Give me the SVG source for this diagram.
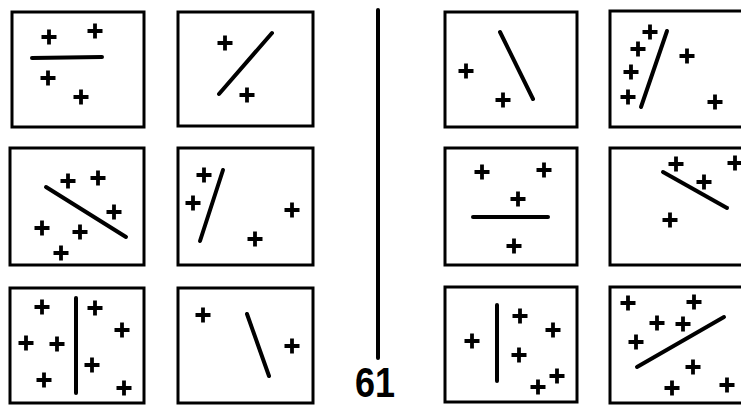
<svg xmlns="http://www.w3.org/2000/svg" xmlns:xlink="http://www.w3.org/1999/xlink" width="741" height="405" viewBox="0 0 741 405">
<style>
.bx{fill:none;stroke:#000;stroke-width:3}
.ln{stroke:#000;stroke-width:4;stroke-linecap:round;fill:none}
.cr{stroke:#000;stroke-width:3.8;fill:none}
.num{font-family:"Liberation Sans",Arial,sans-serif;font-weight:bold;font-size:42px;fill:#000}
</style>
<defs>
<path id="c" class="cr" d="M-7.5 0H7.5M0-7.5V7.5"/>
</defs>
<rect width="741" height="405" fill="#fff"/>

<g id="p1">
<rect class="bx" x="12" y="12" width="132" height="115"/>
<line class="ln" x1="32" y1="58" x2="102" y2="57"/>
<use xlink:href="#c" x="49" y="37"/><use xlink:href="#c" x="95" y="31"/>
<use xlink:href="#c" x="48" y="78"/><use xlink:href="#c" x="81" y="97"/>
</g>
<g id="p2">
<rect class="bx" x="178" y="12" width="135" height="114"/>
<line class="ln" x1="272" y1="33" x2="219" y2="94"/>
<use xlink:href="#c" x="225" y="43"/><use xlink:href="#c" x="247" y="95"/>
</g>
<g id="p3">
<rect class="bx" x="10" y="148" width="134" height="117"/>
<line class="ln" x1="46" y1="187" x2="126" y2="237"/>
<use xlink:href="#c" x="68" y="181"/><use xlink:href="#c" x="98" y="178"/>
<use xlink:href="#c" x="114" y="212"/><use xlink:href="#c" x="42" y="228"/>
<use xlink:href="#c" x="80" y="232"/><use xlink:href="#c" x="61" y="253"/>
</g>
<g id="p4">
<rect class="bx" x="178" y="148" width="135" height="117"/>
<line class="ln" x1="223" y1="170" x2="200" y2="241"/>
<use xlink:href="#c" x="204" y="175"/><use xlink:href="#c" x="193" y="203"/>
<use xlink:href="#c" x="292" y="210"/><use xlink:href="#c" x="255" y="239"/>
</g>
<g id="p5">
<rect class="bx" x="10" y="288" width="134" height="115"/>
<line class="ln" x1="76" y1="298" x2="76" y2="393"/>
<use xlink:href="#c" x="42" y="307"/><use xlink:href="#c" x="95" y="308"/>
<use xlink:href="#c" x="26" y="343"/><use xlink:href="#c" x="57" y="344"/>
<use xlink:href="#c" x="122" y="330"/><use xlink:href="#c" x="92" y="365"/>
<use xlink:href="#c" x="44" y="380"/><use xlink:href="#c" x="124" y="388"/>
</g>
<g id="p6">
<rect class="bx" x="178" y="288" width="135" height="115"/>
<line class="ln" x1="247" y1="314" x2="269" y2="376"/>
<use xlink:href="#c" x="203" y="315"/><use xlink:href="#c" x="292" y="346"/>
</g>

<g id="divider">
<line class="ln" x1="378" y1="10" x2="378" y2="358"/>
<text class="num" x="355" y="397" textLength="40" lengthAdjust="spacingAndGlyphs">61</text>
</g>

<g id="p7">
<rect class="bx" x="445" y="12" width="132" height="115"/>
<line class="ln" x1="500" y1="32" x2="533" y2="99"/>
<use xlink:href="#c" x="466" y="71"/><use xlink:href="#c" x="503" y="100"/>
</g>
<g id="p8">
<rect class="bx" x="610" y="11" width="140" height="116"/>
<line class="ln" x1="667" y1="31" x2="641" y2="107"/>
<use xlink:href="#c" x="650" y="32"/><use xlink:href="#c" x="638" y="49"/>
<use xlink:href="#c" x="631" y="72"/><use xlink:href="#c" x="628" y="97"/>
<use xlink:href="#c" x="687" y="56"/><use xlink:href="#c" x="715" y="102"/>
</g>
<g id="p9">
<rect class="bx" x="445" y="148" width="132" height="117"/>
<line class="ln" x1="473" y1="217" x2="548" y2="217"/>
<use xlink:href="#c" x="482" y="172"/><use xlink:href="#c" x="544" y="170"/>
<use xlink:href="#c" x="518" y="199"/><use xlink:href="#c" x="514" y="246"/>
</g>
<g id="p10">
<rect class="bx" x="610" y="148" width="140" height="117"/>
<line class="ln" x1="663" y1="172" x2="727" y2="208"/>
<use xlink:href="#c" x="676" y="164"/><use xlink:href="#c" x="735" y="163"/>
<use xlink:href="#c" x="704" y="182"/><use xlink:href="#c" x="670" y="220"/>
</g>
<g id="p11">
<rect class="bx" x="445" y="287" width="132" height="115"/>
<line class="ln" x1="497" y1="305" x2="497" y2="381"/>
<use xlink:href="#c" x="472" y="341"/><use xlink:href="#c" x="520" y="316"/>
<use xlink:href="#c" x="553" y="330"/><use xlink:href="#c" x="519" y="355"/>
<use xlink:href="#c" x="557" y="376"/><use xlink:href="#c" x="538" y="387"/>
</g>
<g id="p12">
<rect class="bx" x="610" y="287" width="140" height="116"/>
<line class="ln" x1="637" y1="367" x2="724" y2="317"/>
<use xlink:href="#c" x="628" y="303"/><use xlink:href="#c" x="694" y="302"/>
<use xlink:href="#c" x="657" y="323"/><use xlink:href="#c" x="683" y="324"/>
<use xlink:href="#c" x="636" y="342"/><use xlink:href="#c" x="693" y="367"/>
<use xlink:href="#c" x="672" y="388"/><use xlink:href="#c" x="727" y="385"/>
</g>
</svg>
